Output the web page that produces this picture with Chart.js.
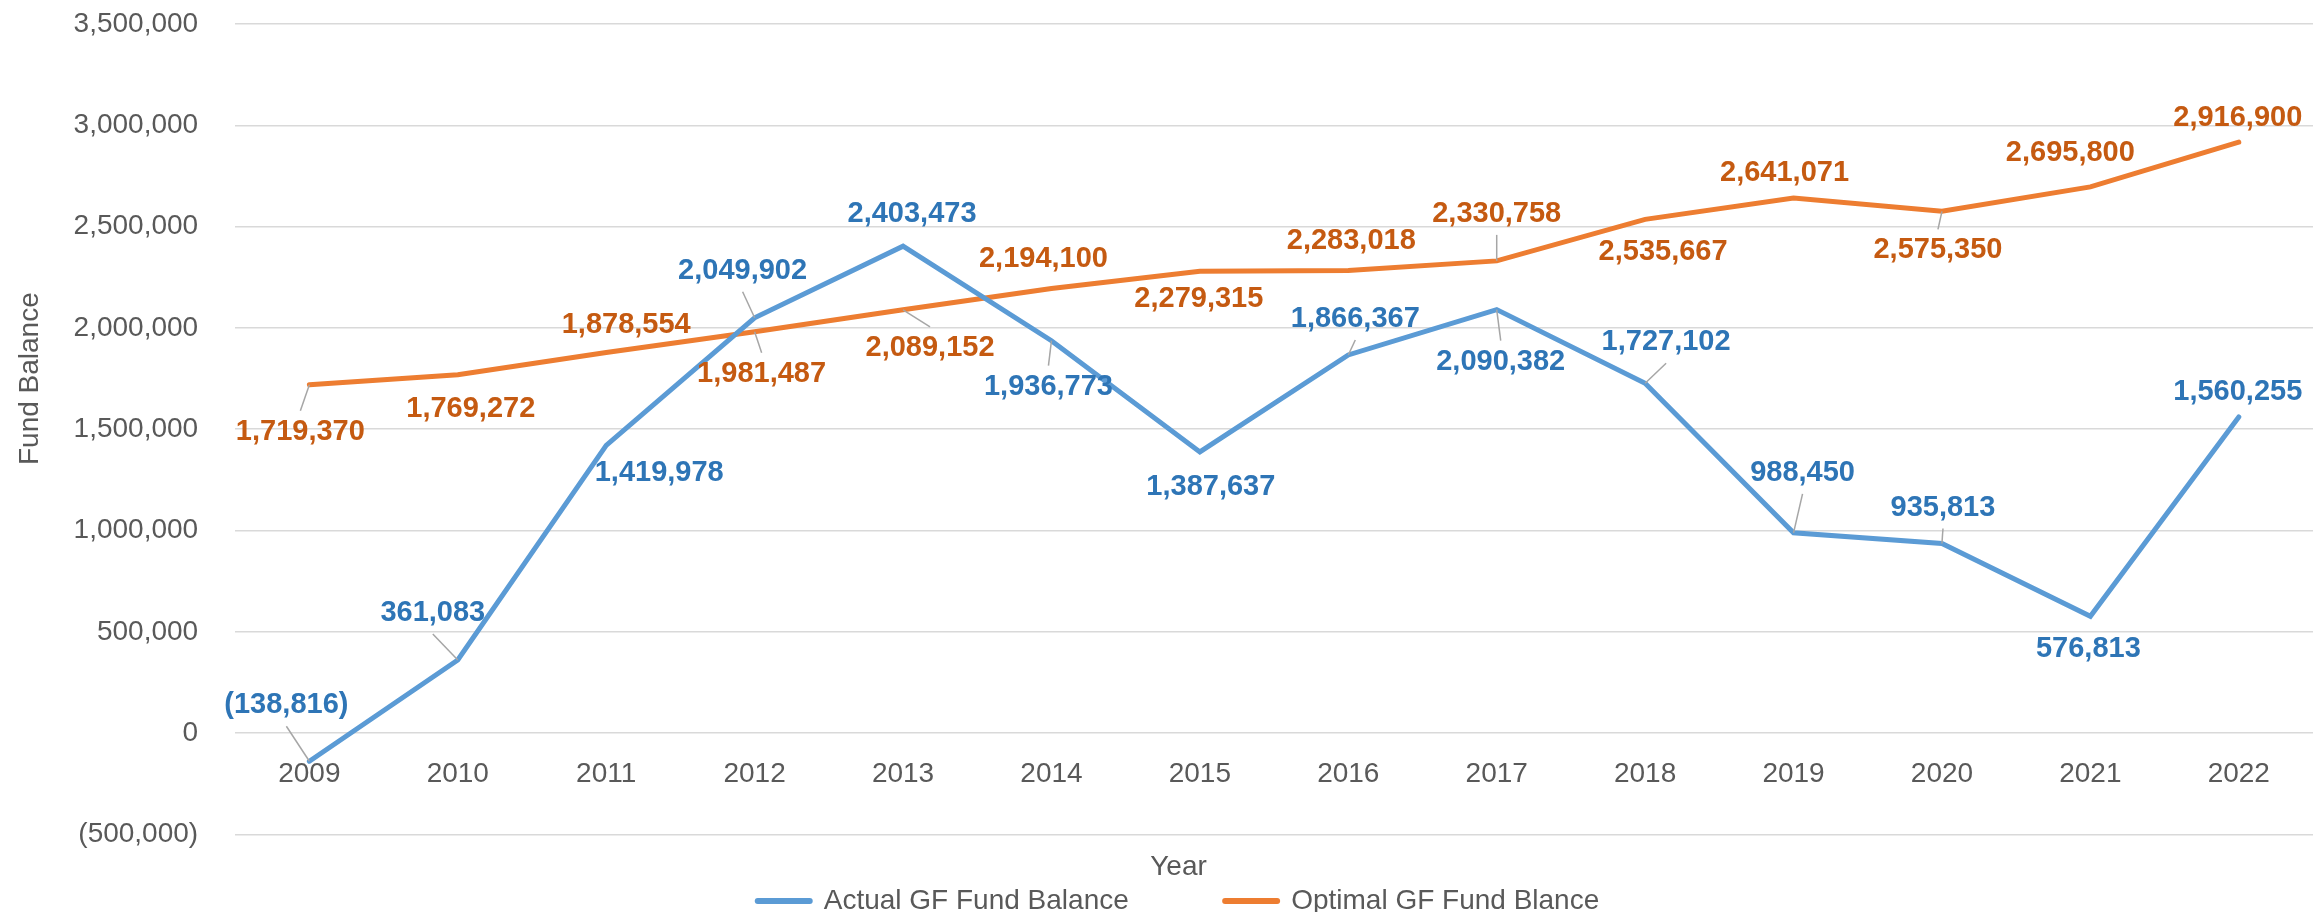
<!DOCTYPE html>
<html>
<head>
<meta charset="utf-8">
<script src="https://cdn.jsdelivr.net/npm/chart.js@4.4.1/dist/chart.umd.min.js"></script>
<style>
  html, body { margin: 0; padding: 0; background: #fff; }
  #wrap { width: 2313px; height: 912px; }
</style>
</head>
<body>
<div id="wrap"><canvas id="fundChart"></canvas></div>
<script>
// Data
const years = ['2009', '2010', '2011', '2012', '2013', '2014', '2015', '2016', '2017', '2018', '2019', '2020', '2021', '2022'];
const actualBalance = [-138816, 361083, 1419978, 2049902, 2403473, 1936773, 1387637, 1866367, 2090382, 1727102, 988450, 935813, 576813, 1560255];
const optimalBalance = [1719370, 1769272, 1878554, 1981487, 2089152, 2194100, 2279315, 2283018, 2330758, 2535667, 2641071, 2575350, 2695800, 2916900];
const yTicks = { min: -500000, max: 3500000, step: 500000 };

// Label placement (pixel offsets from the point) and leader lines
const actualLabelOffsets = [[-23, -56], [-25, -47], [53, 28], [-12, -47], [9, -32], [-3, 46], [11, 35], [7, -36], [4, 52], [21, -41], [9, -60], [1, -36], [-2, 33], [-1, -25]];
const optimalLabelOffsets = [[-9, 47], [13, 34], [20, -28], [7, 42], [27, 38], [-8, -30], [-1, 28], [3, -30], [0, -47], [18, 33], [-9, -25], [-4, 39], [-20, -34], [-1, -24]];
const actualLeaders = [true, true, false, true, false, true, false, true, true, true, true, true, false, false];
const optimalLeaders = [true, false, false, true, true, false, false, false, true, false, false, true, false, false];

const FONT = "'Liberation Sans', Arial, sans-serif";
Chart.defaults.font.family = FONT;
Chart.defaults.font.size = 28;
Chart.defaults.color = '#595959';

function fmt(v) {
    const s = Math.abs(v).toLocaleString('en-US');
    return v < 0 ? '(' + s + ')' : s;
}

// Data labels drawn next to each point
const pointLabels = {
    id: 'pointLabels',
    afterDatasetsDraw(chart) {
        const ctx = chart.ctx;
        ctx.save();
        ctx.font = 'bold 29px ' + FONT;
        ctx.textAlign = 'center';
        ctx.textBaseline = 'middle';
        chart.data.datasets.forEach((ds, di) => {
            const meta = chart.getDatasetMeta(di);
            meta.data.forEach((pt, i) => {
                const [dx, dy] = ds.labelOffsets[i];
                const cx = pt.x + dx, cy = pt.y + dy;
                if (ds.leaders[i]) {
                    const ey = dy < 0 ? cy + 21 : cy - 21;
                    ctx.strokeStyle = '#a6a6a6';
                    ctx.lineWidth = 1.5;
                    ctx.beginPath();
                    ctx.moveTo(cx, ey);
                    ctx.lineTo(pt.x, pt.y);
                    ctx.stroke();
                }
                ctx.fillStyle = ds.labelColor;
                ctx.fillText(fmt(ds.data[i]), cx, cy);
            });
        });
        ctx.restore();
    }
};

const ctx = document.getElementById('fundChart').getContext('2d');
const fundChart = new Chart(ctx, {
    type: 'line',
    data: {
        labels: years,
        datasets: [{
            label: 'Actual GF Fund Balance',
            data: actualBalance,
            borderColor: '#5B9BD5',
            backgroundColor: '#5B9BD5',
            labelColor: '#2E75B6',
            labelOffsets: actualLabelOffsets,
            leaders: actualLeaders
        }, {
            label: 'Optimal GF Fund Blance',
            data: optimalBalance,
            borderColor: '#ED7D31',
            backgroundColor: '#ED7D31',
            labelColor: '#C55A11',
            labelOffsets: optimalLabelOffsets,
            leaders: optimalLeaders
        }]
    },
    options: {
        responsive: true,
        maintainAspectRatio: false,
        animation: false,
        // left padding nudges the legend/Year to the right; the y title pulls back into it
        layout: { padding: { top: 24, right: -8, bottom: -13, left: 36 } },
        elements: {
            line: { borderWidth: 5, tension: 0, borderCapStyle: 'round' },
            point: { radius: 0, hoverRadius: 0 }
        },
        scales: {
            x: {
                type: 'category',
                offset: true,
                position: { y: 0 },
                grid: { display: false, drawTicks: false },
                border: { display: false },
                ticks: { padding: 24, color: '#595959', font: { size: 28 } }
            },
            y: {
                min: yTicks.min,
                max: yTicks.max,
                ticks: {
                    stepSize: yTicks.step,
                    padding: 2,
                    color: '#595959',
                    font: { size: 28 },
                    callback: v => fmt(v)
                },
                grid: { color: '#d9d9d9', lineWidth: 1.5, drawTicks: true, tickLength: 35, tickColor: 'rgba(0,0,0,0)' },
                border: { display: false },
                title: {
                    display: true,
                    text: '             Fund Balance',
                    color: '#595959',
                    font: { size: 28 },
                    padding: { top: -23, bottom: 25 }
                }
            }
        },
        plugins: {
            title: {
                display: true,
                text: 'Year',
                position: 'bottom',
                weight: 500,
                color: '#595959',
                font: { size: 28, weight: 'normal' },
                padding: { top: 16, bottom: 0 }
            },
            legend: {
                position: 'bottom',
                labels: {
                    usePointStyle: true,
                    pointStyle: 'line',
                    pointStyleWidth: 52,
                    padding: 3,
                    color: '#595959',
                    font: { size: 28 },
                    generateLabels(chart) {
                        const items = Chart.defaults.plugins.legend.labels.generateLabels(chart);
                        items.forEach((it, i) => {
                            const ds = chart.data.datasets[it.datasetIndex];
                            it.strokeStyle = ds.borderColor;
                            it.fillStyle = ds.borderColor;
                            it.lineWidth = 6;
                            it.lineCap = 'round';
                            // extra space between the two entries
                            if (i < items.length - 1) it.text += '            ';
                        });
                        return items;
                    }
                }
            },
            tooltip: { enabled: false }
        }
    },
    plugins: [pointLabels]
});
</script>
</body>
</html>
